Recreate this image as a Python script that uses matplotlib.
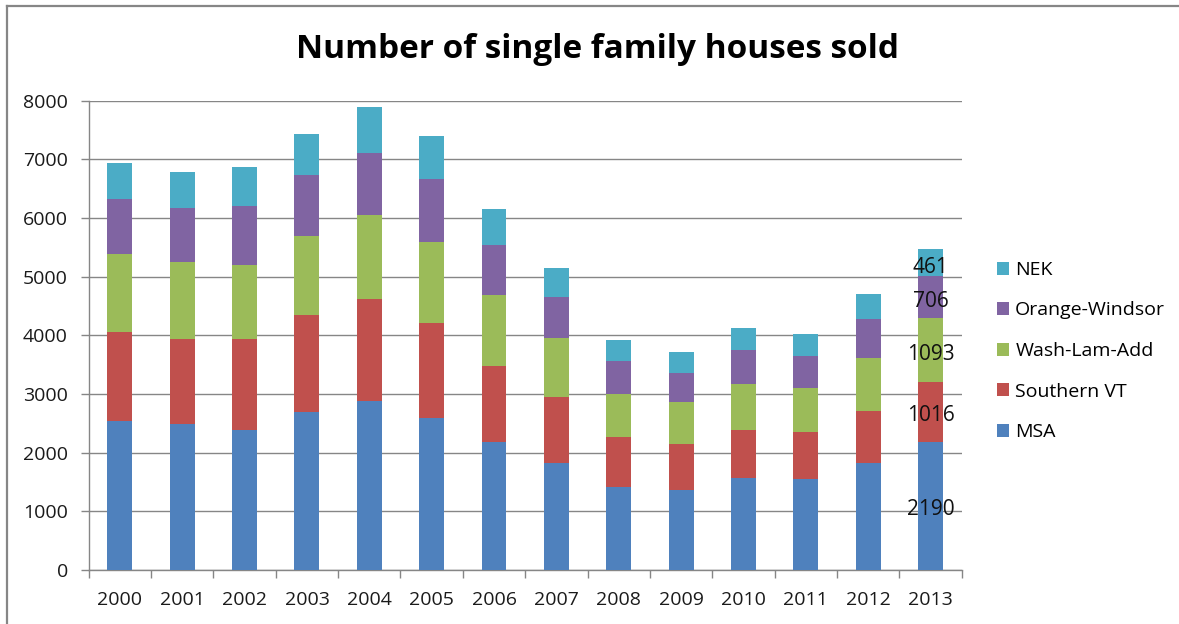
import matplotlib
matplotlib.use("Agg")
import matplotlib.pyplot as plt
from matplotlib.lines import Line2D
import numpy as np

years = ["2000", "2001", "2002", "2003", "2004", "2005", "2006",
         "2007", "2008", "2009", "2010", "2011", "2012", "2013"]
msa = [2540, 2484, 2387, 2699, 2887, 2592, 2188, 1830, 1420, 1364, 1569, 1546, 1819, 2190]
southern_vt = [1513, 1460, 1557, 1649, 1734, 1619, 1295, 1125, 842, 789, 818, 807, 897, 1016]
wash_lam_add = [1330, 1313, 1256, 1347, 1437, 1376, 1206, 1001, 733, 711, 784, 750, 899, 1093]
orange_windsor = [948, 910, 1006, 1040, 1057, 1074, 857, 699, 563, 495, 585, 546, 659, 706]
nek = [603, 619, 671, 693, 784, 744, 614, 489, 364, 363, 365, 380, 432, 461]

series_names = ["MSA", "Southern VT", "Wash-Lam-Add", "Orange-Windsor", "NEK"]
series_vals = [msa, southern_vt, wash_lam_add, orange_windsor, nek]
colors = ["#4F81BD", "#C0504D", "#9BBB59", "#8064A2", "#4BACC6"]
yticks = [0, 1000, 2000, 3000, 4000, 5000, 6000, 7000, 8000]
title = "Number of single family houses sold"

plt.rcParams['font.family'] = ['Open Sans', 'DejaVu Sans']

W, H = 1179, 624
fig = plt.figure(figsize=(W / 100, H / 100), dpi=100)
ax = fig.add_axes([88.7 / W, 1 - 570 / H, (961.7 - 88.7) / W, (570 - 100.7) / H])

x = np.arange(len(years))
bottom = np.zeros(len(years))
for name, vals, c in zip(series_names, series_vals, colors):
    vals = np.array(vals, dtype=float)
    ax.bar(x, vals, width=0.4, bottom=bottom, color=c, label=name,
           edgecolor='none', zorder=3)
    # Data label on the last bar only, centred in its segment
    ax.annotate(str(int(vals[-1])), xy=(x[-1], bottom[-1] + vals[-1] / 2),
                xytext=(0, -3), textcoords='offset points',
                ha='center', va='center', fontsize=15, color='#111111', zorder=5)
    bottom += vals

ax.set_xlim(-0.5, len(years) - 0.5)
ax.set_ylim(0, 8000)
ax.set_yticks(yticks)
ax.set_yticklabels([str(v) for v in yticks])
ax.set_xticks(x)
ax.set_xticklabels(years)
ax.set_xticks(np.arange(-0.5, len(years)), minor=True)
ax.tick_params(axis='x', which='major', length=0, pad=15, labelsize=14, labelcolor='#1a1a1a')
ax.tick_params(axis='x', which='minor', length=6, width=1, color='#868686', direction='out')
ax.tick_params(axis='y', length=6, width=1, color='#868686', pad=9, labelsize=14, labelcolor='#1a1a1a')

ax.yaxis.grid(True, color='#868686', linewidth=1)
ax.set_axisbelow(True)
for s in ['top', 'right']:
    ax.spines[s].set_visible(False)
for s in ['left', 'bottom']:
    ax.spines[s].set_color('#868686')
    ax.spines[s].set_linewidth(1)

fig.text(597 / W, 1 - 50 / H, title, ha='center', va='center',
         fontsize=24, fontweight='bold', color='black')

handles, labs = ax.get_legend_handles_labels()
leg = fig.legend(handles[::-1], labs[::-1], loc='center left',
                 bbox_to_anchor=(989 / W, 1 - 351 / H), frameon=False,
                 fontsize=14, handlelength=0.65, handleheight=0.65,
                 handletextpad=0.3, labelspacing=1.16, borderaxespad=0)

# Outer chart border (left and top edges visible)
fig.add_artist(Line2D([7.5 / W, 7.5 / W], [0, 1 - 5.5 / H], transform=fig.transFigure,
                      color='#868686', linewidth=1.6))
fig.add_artist(Line2D([7.5 / W, 1], [1 - 5.5 / H, 1 - 5.5 / H], transform=fig.transFigure,
                      color='#868686', linewidth=1.6))

fig.savefig("out.png", dpi=100)
